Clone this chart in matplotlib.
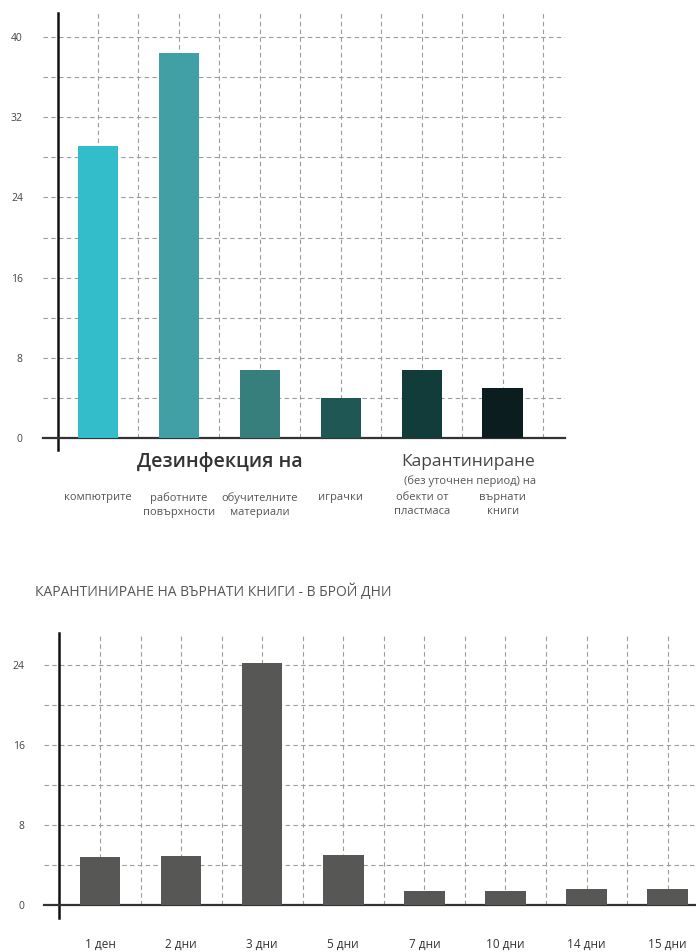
import matplotlib
matplotlib.use('Agg')
import matplotlib.pyplot as plt
from matplotlib.ticker import MultipleLocator, FixedLocator
import matplotlib.transforms as mtransforms

plt.rcParams['font.family'] = ['Open Sans', 'DejaVu Sans']

# Горна диаграма - дезинфекция и карантиниране
kategorii = ['компютрите', 'работните\nповърхности', 'обучителните\nматериали', 'играчки',
             'обекти от\nпластмаса', 'върнати\nкниги']
stoinosti = [29.1, 38.4, 6.8, 4.0, 6.8, 5.0]
cvetove = ['#33bdca', '#40a0a6', '#367f7c', '#1f5755', '#123c39', '#0b1d1e']
grupi = ['Дезинфекция на', 'Карантиниране']
podzaglavie = '(без уточнен период) на'

# Долна диаграма - карантиниране на върнати книги в брой дни
dni = ['1 ден', '2 дни', '3 дни', '5 дни', '7 дни', '10 дни', '14 дни', '15 дни']
broi = [4.8, 4.9, 24.2, 5.0, 1.4, 1.4, 1.6, 1.6]
zaglavie = 'КАРАНТИНИРАНЕ НА ВЪРНАТИ КНИГИ - В БРОЙ ДНИ'

W, H = 696, 952
fig = plt.figure(figsize=(W / 100, H / 100), dpi=100)

grid_kw = dict(color='#9c9c9c', linestyle=(0, (4, 3)), linewidth=0.8)


def setup(ax, ymax, ylow):
    ax.set_ylim(0, ymax)
    ax.yaxis.set_major_locator(MultipleLocator(8))
    ax.yaxis.set_minor_locator(MultipleLocator(4))
    ax.grid(True, which='both', **grid_kw)
    ax.set_axisbelow(True)
    for s in ['top', 'right']:
        ax.spines[s].set_visible(False)
    ax.spines['left'].set_position(('data', -0.5))
    ax.spines['left'].set_bounds(ylow, ymax)
    ax.spines['left'].set_linewidth(1.8)
    ax.spines['left'].set_color('#111111')
    ax.spines['bottom'].set_linewidth(1.6)
    ax.spines['bottom'].set_color('#333333')
    ax.tick_params(axis='both', which='both', length=0)
    ax.tick_params(axis='y', labelsize=7.5, labelcolor='#444444', pad=25)


# ---------- горна ----------
ax1 = fig.add_axes([43 / W, 1 - 438 / H, (565 - 43) / W, (438 - 13) / H])
x1 = list(range(len(stoinosti)))
ax1.bar(x1, stoinosti, width=0.5, color=cvetove, zorder=3)
ax1.set_xlim(-0.68, 5.77)
ax1.xaxis.set_major_locator(FixedLocator(x1))
ax1.xaxis.set_minor_locator(FixedLocator([i + 0.5 for i in x1]))
setup(ax1, 42.4, -1.2)
ax1.set_xticklabels(kategorii, fontsize=8, color='#555555', linespacing=1.4, va='top')
ax1.tick_params(axis='x', pad=39)

tr1 = mtransforms.blended_transform_factory(ax1.transData, fig.transFigure)
ax1.text(1.5, 1 - 462 / H, grupi[0], transform=tr1, ha='center', va='center',
         fontsize=14, fontweight='semibold', color='#333333')
ax1.text(4.57, 1 - 462 / H, grupi[1], transform=tr1, ha='center', va='center',
         fontsize=12.5, color='#444444')
ax1.text(4.6, 1 - 481 / H, podzaglavie, transform=tr1, ha='center', va='center',
         fontsize=8, color='#555555')

# ---------- долна ----------
ax2 = fig.add_axes([44 / W, 1 - 905 / H, (696 - 44) / W, (905 - 633) / H])
x2 = list(range(len(broi)))
ax2.bar(x2, broi, width=0.5, color='#575855', zorder=3)
ax2.set_xlim(-0.69, 7.35)
ax2.xaxis.set_major_locator(FixedLocator(x2))
ax2.xaxis.set_minor_locator(FixedLocator([i + 0.5 for i in x2[:-1]]))
setup(ax2, 27.2, -1.3)
ax2.set_xticklabels(dni, fontsize=8.5, color='#333333')
ax2.tick_params(axis='x', pad=24)

fig.text(35 / W, 1 - 592 / H, zaglavie, ha='left', va='center',
         fontsize=10, color='#555555')

fig.savefig('out.png', dpi=100)
